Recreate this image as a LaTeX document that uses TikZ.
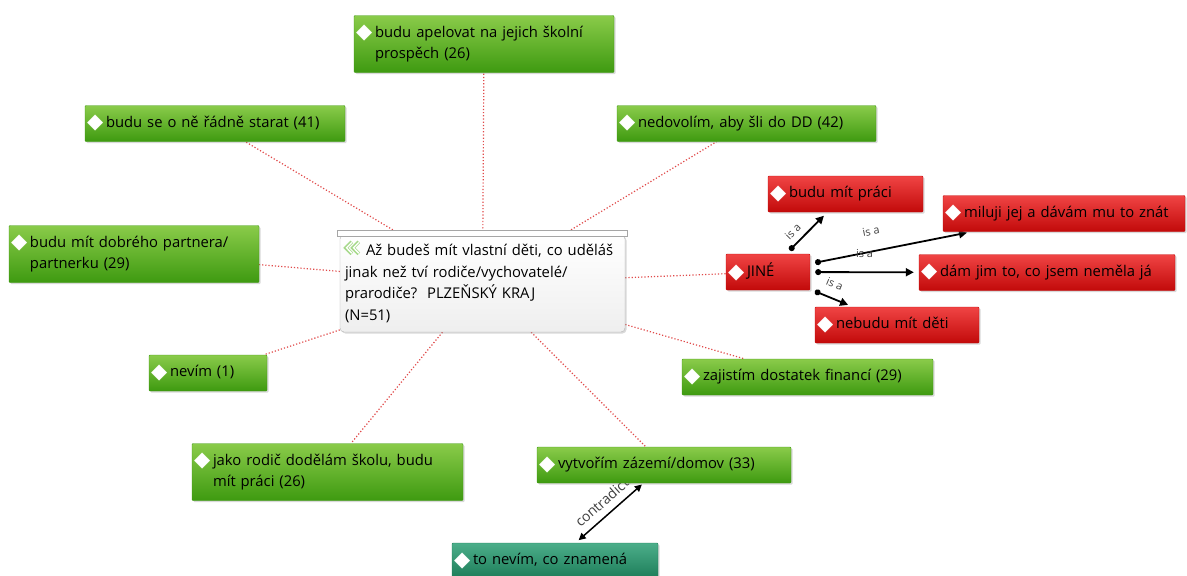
\documentclass[tikz,border=0pt]{standalone}
\usepackage{fontspec}
\setmainfont{Open Sans}
\newfontfamily\dejavu{DejaVu Sans}
\usetikzlibrary{arrows.meta,shadows,calc}
\pgfdeclarelayer{background}
\pgfsetlayers{background,main}

\definecolor{grnT}{HTML}{8ACB4A}
\definecolor{grnB}{HTML}{3E9A10}
\definecolor{redT}{HTML}{F04444}
\definecolor{redB}{HTML}{C20A0A}
\definecolor{tealT}{HTML}{4CAE8A}
\definecolor{tealB}{HTML}{1C7C58}
\definecolor{lnk}{HTML}{E04A4A}
\definecolor{chevc}{HTML}{A6D98A}

% white diamond mark in front of every item
\newcommand{\dmd}{\makebox[18pt][l]{\hspace*{-1pt}\raisebox{-1.5pt}{\dejavu\fontsize{21}{21}\selectfont\textcolor{white}{◆}}}}
\newcommand{\itm}[1]{\dmd\parbox[t]{\dimexpr\hsize-18pt\relax}{\raggedright #1}}

\begin{document}
\begin{tikzpicture}[
  x=1pt, y=-1pt,
  box/.style={rectangle, rounded corners=1pt, inner xsep=3pt, inner ysep=0pt, align=left,
    font=\fontsize{14.8}{21.5}\selectfont, text=black, minimum height=36pt,
    drop shadow={shadow xshift=1.5pt, shadow yshift=-1.5pt, opacity=.3}},
  gbox/.style={box, top color=grnT, bottom color=grnB, draw=grnB},
  rbox/.style={box, top color=redT, bottom color=redB, draw=redB},
  tbox/.style={box, top color=tealT, bottom color=tealB, draw=tealB},
  tall/.style={minimum height=57pt},
  qbox/.style={rectangle, rounded corners=4pt, draw=gray!60, top color=white, bottom color=gray!13,
    inner xsep=5pt, align=left, font=\fontsize{14.8}{21.5}\selectfont,
    drop shadow={shadow xshift=1.5pt, shadow yshift=-1.5pt, opacity=.3}},
  link/.style={draw=lnk, line width=1.2pt, dash pattern=on 1.2pt off 2pt},
  isa/.style={line width=1.8pt, {Circle[length=6pt]}-{Triangle[length=8pt,width=8pt]},
    shorten <=5pt, shorten >=5pt},
  rel/.style={font=\fontsize{11}{11}\selectfont, text=black!75, sloped, above=5pt, inner sep=1pt}
]
  \useasboundingbox (0,0) rectangle (1187,576);

  % central question
  \node[qbox, text width=275pt, minimum height=97pt] (q) at (482.5,283.5)
    {\hspace*{21pt}Až budeš mít vlastní děti, co uděláš\\
     jinak než tví rodiče/vychovatelé/\\
     prarodiče?\ \ PLZEŇSKÝ KRAJ\\
     (N=51)};
  \draw[gray!70, fill=white] ($(q.north west)+(-3,-5)$) rectangle ($(q.north east)+(2,1)$);
  \begin{scope}[shift={(q.north west)}]
    \foreach \dx in {0,7} {
      \draw[chevc, line width=3.6pt, line join=miter] (\dx+12,7) -- (\dx+6,13) -- (\dx+12,19);
      \draw[white, line width=1.3pt, line join=miter] (\dx+12,7.6) -- (\dx+6.7,13) -- (\dx+12,18.4);
    }
  \end{scope}

  % answers
  \node[gbox, tall, text width=254pt] (apel)    at (484,44)     {\itm{budu apelovat na jejich školní\\prospěch (26)}};
  \node[gbox, text width=254pt]       (starat)  at (215,123.5)  {\itm{budu se o ně řádně starat (41)}};
  \node[gbox, text width=253pt]       (dd)      at (746.5,123.5){\itm{nedovolím, aby šli do DD (42)}};
  \node[gbox, tall, text width=244pt] (partner) at (134,254)    {\itm{budu mít dobrého partnera/\\partnerku (29)}};
  \node[gbox, text width=112pt]       (nevim)   at (208,373)    {\itm{nevím (1)}};
  \node[gbox, tall, text width=265pt] (jako)    at (327.5,472)  {\itm{jako rodič dodělám školu, budu\\mít práci (26)}};
  \node[gbox, text width=248pt]       (vytv)    at (664,465)    {\itm{vytvořím zázemí/domov (33)}};
  \node[tbox, text width=200pt]       (tonevim) at (555,561)    {\itm{to nevím, co znamená}};
  \node[gbox, text width=245pt]       (zaj)     at (807.5,377)  {\itm{zajistím dostatek financí (29)}};

  % JINÉ and its kinds
  \node[rbox, text width=78pt]  (jine)   at (768,272)    {\itm{JINÉ}};
  \node[rbox, text width=149pt] (prace)  at (845.5,194)  {\itm{budu mít práci}};
  \node[rbox, text width=236pt] (miluji) at (1064,213.5) {\itm{miluji jej a dávám mu to znát}};
  \node[rbox, text width=250pt] (dam)    at (1047,272.5) {\itm{dám jim to, co jsem neměla já}};
  \node[rbox, text width=158pt] (nebudu) at (897,325)    {\itm{nebudu mít děti}};

  \begin{pgfonlayer}{background}
    \foreach \t in {apel,starat,dd,partner,nevim,jako,vytv,zaj,jine}
      \draw[link] (q) -- (\t);
    \draw[isa] (jine) -- node[rel, pos=.35]{is a} (prace);
    \draw[isa] (jine) -- node[rel, pos=.4, above=9pt]{is a} (miluji);
    \draw[isa] (jine) -- node[rel, pos=.5, above=8pt]{is a} (dam);
    \draw[isa] (jine) -- node[rel, pos=.45, above=3pt]{is a} (nebudu);
    \draw[line width=1.5pt, {Triangle[length=7pt,width=7pt]}-{Triangle[length=7pt,width=7pt]},
      shorten <=4pt, shorten >=2pt]
      (tonevim) -- node[rel, font=\fontsize{14}{14}\selectfont, above=1pt, pos=.55]{contradicts} (vytv);
  \end{pgfonlayer}
\end{tikzpicture}
\end{document}
